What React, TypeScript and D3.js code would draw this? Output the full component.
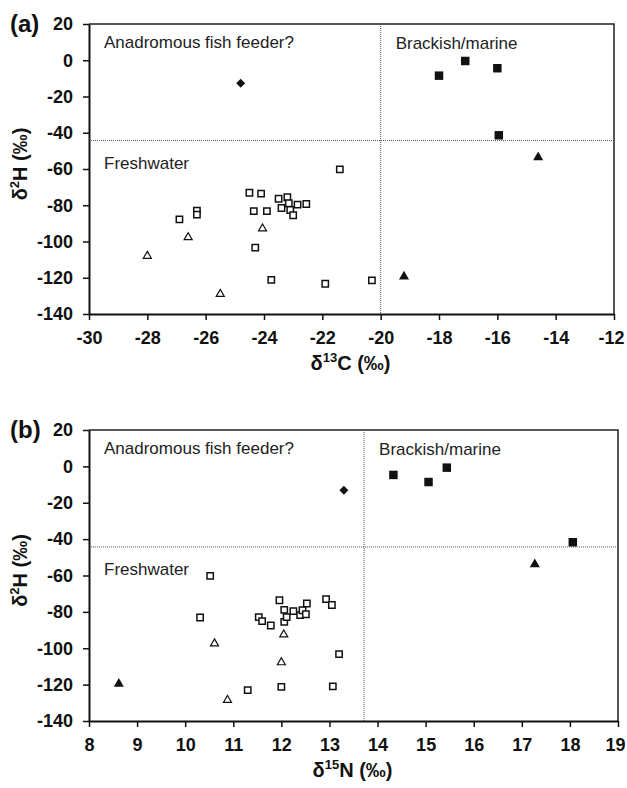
import React, { useEffect, useRef } from 'react';
import * as d3 from 'd3';

type Pt = [number, number];

// panel (a): δ13C (x) vs δ2H (y)
const aOpenSquares: Pt[] = [
  [-21.4, -60.2], [-22.55, -79.3], [-21.9, -123.3], [-20.3, -121.4],
  [-26.9, -87.8], [-26.3, -83.0], [-26.3, -85.2], [-24.5, -73.1],
  [-24.1, -73.6], [-24.35, -83.2], [-23.9, -83.2], [-24.3, -103.4],
  [-23.75, -121.2], [-23.5, -76.4], [-23.2, -75.6], [-23.4, -81.5],
  [-23.15, -78.9], [-23.1, -82.6], [-22.85, -79.7], [-23.0, -85.5],
];
const aOpenTriangles: Pt[] = [[-26.6, -97.7], [-28.0, -108.0], [-25.5, -129.0], [-24.05, -92.9]];
const aFilledTriangles: Pt[] = [[-14.6, -53.5], [-19.2, -119.4]];
const aFilledSquares: Pt[] = [[-18.0, -8.5], [-17.1, -0.4], [-16.0, -4.4], [-15.95, -41.4]];
const aDiamonds: Pt[] = [[-24.8, -12.7]];

// panel (b): δ15N (x) vs δ2H (y)
const bOpenSquares: Pt[] = [
  [10.52, -60.2], [10.31, -83.1], [11.3, -123.0], [12.0, -121.2],
  [11.53, -82.9], [11.6, -85.1], [11.78, -87.5], [11.96, -73.6],
  [12.06, -78.9], [12.06, -85.5], [12.11, -82.9], [12.25, -79.6],
  [12.39, -81.8], [12.44, -79.1], [12.51, -81.3], [12.53, -75.4],
  [12.93, -73.0], [13.05, -76.2], [13.2, -103.2], [13.07, -121.0],
];
const bOpenTriangles: Pt[] = [[10.61, -97.4], [10.88, -128.5], [12.0, -107.8], [12.05, -92.5]];
const bFilledTriangles: Pt[] = [[8.62, -119.6], [17.27, -53.8]];
const bFilledSquares: Pt[] = [[14.33, -4.7], [15.06, -8.6], [15.44, -0.7], [18.06, -41.7]];
const bDiamonds: Pt[] = [[13.3, -13.1]];

const yTicks = [20, 0, -20, -40, -60, -80, -100, -120, -140];
const aXTicks = [-30, -28, -26, -24, -22, -20, -18, -16, -14, -12];
const bXTicks = [8, 9, 10, 11, 12, 13, 14, 15, 16, 17, 18, 19];

const hThreshold = -44.3;
const aVThreshold = -20;
const bVThreshold = 13.72;

const regionLabels = ['Anadromous fish feeder?', 'Freshwater', 'Brackish/marine'];

const FONT = "'Liberation Sans', Arial, Helvetica, sans-serif";

const App = () => {
  const ref = useRef<SVGSVGElement>(null);

  useEffect(() => {
    const svg = d3.select(ref.current);
    svg.selectAll('*').remove();

    const panels = [
      {
        tag: '(a)', tagY: 32, top: 24, bottom: 314, left: 89, right: 614,
        xTicks: aXTicks, vLine: aVThreshold, iso: '13', el: 'C',
        sets: { os: aOpenSquares, ot: aOpenTriangles, ft: aFilledTriangles, fs: aFilledSquares, d: aDiamonds },
      },
      {
        tag: '(b)', tagY: 438, top: 430, bottom: 721, left: 89, right: 618,
        xTicks: bXTicks, vLine: bVThreshold, iso: '15', el: 'N',
        sets: { os: bOpenSquares, ot: bOpenTriangles, ft: bFilledTriangles, fs: bFilledSquares, d: bDiamonds },
      },
    ];

    panels.forEach(p => {
      const x = d3.scaleLinear()
        .domain([p.xTicks[0], p.xTicks[p.xTicks.length - 1]])
        .range([p.left, p.right]);
      const y = d3.scaleLinear()
        .domain([-140, 20])
        .range([p.bottom, p.top]);

      const g = svg.append('g');

      // frame (top and right)
      g.append('path')
        .attr('d', `M${p.left},${p.top}H${p.right}V${p.bottom}`)
        .attr('fill', 'none')
        .attr('stroke', '#222')
        .attr('stroke-width', 1.5);

      // dotted thresholds
      g.append('line')
        .attr('x1', p.left).attr('x2', p.right)
        .attr('y1', y(hThreshold)).attr('y2', y(hThreshold))
        .attr('stroke', '#555').attr('stroke-width', 1)
        .attr('stroke-dasharray', '1,1');
      g.append('line')
        .attr('x1', x(p.vLine)).attr('x2', x(p.vLine))
        .attr('y1', p.top).attr('y2', p.bottom)
        .attr('stroke', '#555').attr('stroke-width', 1)
        .attr('stroke-dasharray', '1,1');

      // axes
      const yAxis = g.append('g')
        .attr('transform', `translate(${p.left},0)`)
        .call(d3.axisLeft(y).tickValues(yTicks).tickSize(6).tickSizeOuter(0).tickPadding(10).tickFormat(d => String(d)));
      const xAxis = g.append('g')
        .attr('transform', `translate(0,${p.bottom})`)
        .call(d3.axisBottom(x).tickValues(p.xTicks).tickSize(6).tickSizeOuter(0).tickPadding(11).tickFormat(d => String(d)));

      [yAxis, xAxis].forEach(ax => {
        ax.select('.domain').attr('stroke', '#111').attr('stroke-width', 2);
        ax.selectAll('.tick line').attr('stroke', '#111').attr('stroke-width', 1.5);
        ax.selectAll('.tick text')
          .attr('fill', '#111')
          .style('font-family', FONT)
          .style('font-size', '18px')
          .style('font-weight', 'bold');
      });
      // keep the last x label inside the page
      xAxis.selectAll<SVGTextElement, number>('.tick text')
        .filter((d, i, n) => i === n.length - 1)
        .attr('dx', -3);

      // region labels
      const txt = (s: string, tx: number, ty: number) =>
        g.append('text')
          .attr('x', tx).attr('y', ty)
          .style('font-family', FONT).style('font-size', '17px')
          .attr('fill', '#222')
          .text(s);
      txt(regionLabels[0], p.left + 15, p.top + 24);
      txt(regionLabels[1], p.left + 15, y(hThreshold) + 28);
      txt(regionLabels[2], x(p.vLine) + 15, p.top + 25);

      // markers
      const sym = (type: d3.SymbolType, size: number) => d3.symbol().type(type).size(size)();
      const draw = (pts: Pt[], path: string | null, fill: string, stroke: string, sw: number, rot = 0) => {
        g.append('g').selectAll('path')
          .data(pts)
          .enter().append('path')
          .attr('d', path)
          .attr('transform', d => `translate(${x(d[0])},${y(d[1])}) rotate(${rot})`)
          .attr('fill', fill)
          .attr('stroke', stroke)
          .attr('stroke-width', sw);
      };
      draw(p.sets.ot, sym(d3.symbolTriangle, 28), '#fff', '#111', 1.2);
      draw(p.sets.os, sym(d3.symbolSquare, 40), '#fff', '#111', 1.5);
      draw(p.sets.ft, sym(d3.symbolTriangle, 44), '#111', 'none', 0);
      draw(p.sets.fs, sym(d3.symbolSquare, 72), '#111', 'none', 0);
      draw(p.sets.d, sym(d3.symbolSquare, 40), '#111', 'none', 0, 45);

      // panel tag
      g.append('text')
        .attr('x', 10).attr('y', p.tagY)
        .style('font-family', FONT).style('font-size', '24px').style('font-weight', 'bold')
        .attr('fill', '#111')
        .text(p.tag);

      // x axis title
      const xt = g.append('text')
        .attr('x', (p.left + p.right) / 2 - 1)
        .attr('y', p.bottom + 56)
        .attr('text-anchor', 'middle')
        .style('font-family', FONT).style('font-size', '20px').style('font-weight', 'bold')
        .attr('fill', '#111');
      xt.append('tspan').text('δ');
      xt.append('tspan').attr('dy', -8).style('font-size', '13px').text(p.iso);
      xt.append('tspan').attr('dy', 8).text(`${p.el} (‰)`);

      // y axis title
      const yt = g.append('text')
        .attr('transform', `translate(27,${(p.top + p.bottom) / 2 - 5}) rotate(-90)`)
        .attr('text-anchor', 'middle')
        .style('font-family', FONT).style('font-size', '20px').style('font-weight', 'bold')
        .attr('fill', '#111');
      yt.append('tspan').text('δ');
      yt.append('tspan').attr('dy', -8).style('font-size', '13px').text('2');
      yt.append('tspan').attr('dy', 8).text('H (‰)');
    });
  }, []);

  return (
    <svg
      ref={ref}
      width={627}
      height={788}
      style={{ position: 'absolute', left: 0, top: 0, background: '#fff' }}
    />
  );
};

export default App;
